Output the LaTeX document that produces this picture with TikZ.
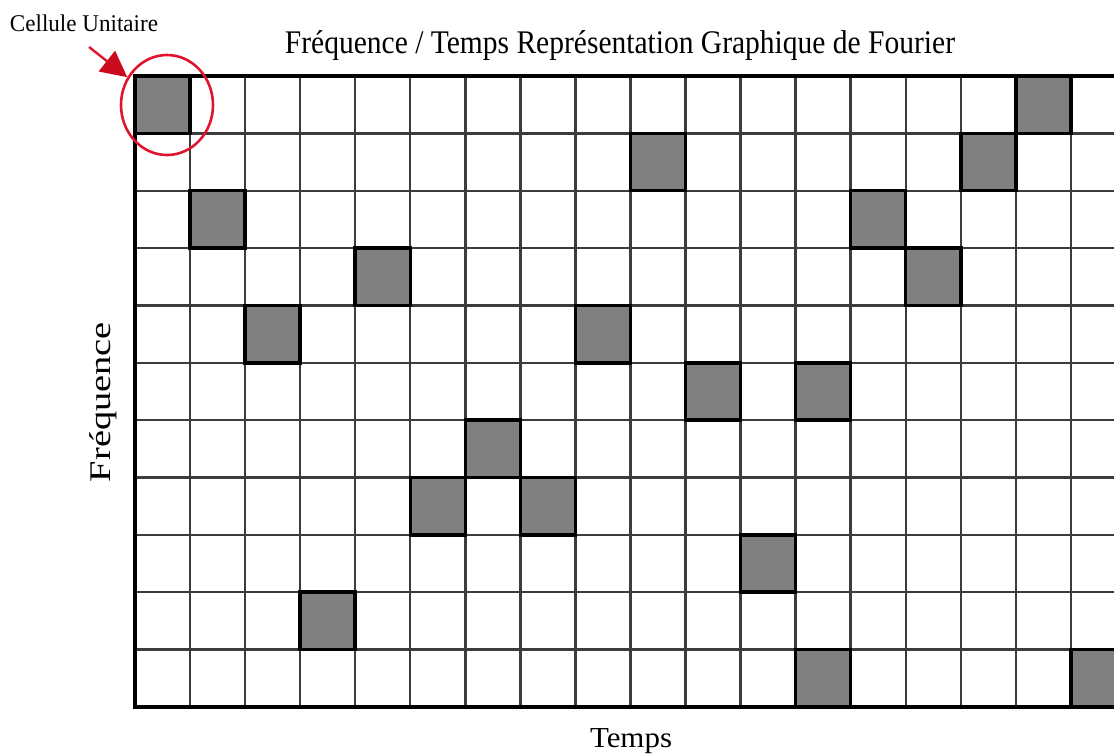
\documentclass[tikz,border=0pt]{standalone}
\usepackage{fontspec}
\usepackage{graphicx}
\setmainfont{Liberation Serif}
\usetikzlibrary{arrows.meta,shapes.geometric}
\definecolor{cellgray}{HTML}{808080}
\definecolor{gridgray}{HTML}{3C3C3C}
\definecolor{redmark}{HTML}{E0142E}
\definecolor{redhead}{HTML}{CC0A1E}
\begin{document}
\begin{tikzpicture}[x=1pt,y=-1pt,
  gridline/.style={draw=gridgray,line width=2.4pt},
  border/.style={draw=black,line width=3.5pt},
  cellfill/.style={fill=cellgray,draw=black,line width=3.5pt},
  lab/.style={inner sep=0pt,text=black},
  ring/.style={ellipse,draw=redmark,line width=2.6pt,minimum width=92pt,minimum height=100pt,inner sep=0pt},
  pointer/.style={draw=redmark,line width=2.4pt,-{Triangle[length=26pt,width=26pt,fill=redhead,color=redhead]}}
]
\useasboundingbox (0,0) rectangle (1114,753);
\clip (0,0) rectangle (1114,753);
\fill[white] (0,0) rectangle (1114,753);
% grid
\foreach \k in {1,...,17} \draw[gridline] ({135+55.05*\k},76) -- ({135+55.05*\k},707);
\foreach \j in {1,...,10} \draw[gridline] (135,{76+57.36*\j}) -- (1125,{76+57.36*\j});
% filled cells
\foreach \c/\r in {0/0,16/0,9/1,15/1,1/2,13/2,4/3,14/3,2/4,8/4,10/5,12/5,6/6,5/7,7/7,11/8,3/9,12/10,17/10}
  \draw[cellfill] ({135+55.05*\c},{76+57.36*\r}) rectangle +(55.05,57.36);
% outer border
\draw[border] (1125,76) -- (135,76) -- (135,707) -- (1125,707);
% texts
\node[lab,anchor=base] (title) at (620,53) {\resizebox{670pt}{\height}{\fontsize{33}{36}\selectfont Fréquence / Temps Représentation Graphique de Fourier}};
\node[lab,anchor=base] (cellule) at (84,31) {\resizebox{148pt}{\height}{\fontsize{24}{28}\selectfont Cellule Unitaire}};
\node[lab,anchor=base,rotate=90] (freq) at (110,402) {\resizebox{160pt}{\height}{\fontsize{30}{34}\selectfont Fréquence}};
\node[lab,anchor=base] (temps) at (631,747) {\resizebox{82pt}{\height}{\fontsize{29}{32}\selectfont Temps}};
% red marker
\node[ring] (circ) at (167,105) {};
\coordinate (tail) at (89,47);
\draw[pointer] (tail) -- (circ.145);
\end{tikzpicture}
\end{document}
